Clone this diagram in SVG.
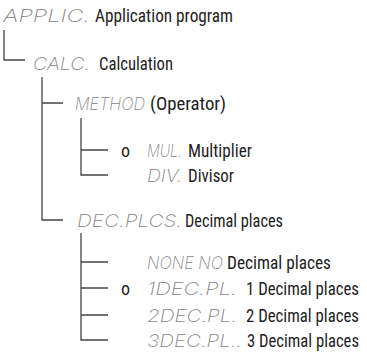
<svg xmlns="http://www.w3.org/2000/svg" width="367" height="358" viewBox="0 0 367 358">
<style>
.lcd{font-family:"Inter","DejaVu Sans",sans-serif;font-weight:200;font-style:italic;font-size:17px;fill:#858585}
.txt{font-family:"Liberation Sans Narrow","Roboto Condensed","Liberation Sans",sans-serif;font-size:18px;fill:#1e1e1e}
.ln{stroke:#444;stroke-width:1.3;fill:none}
</style>
<rect width="367" height="358" fill="#fff"/>
<g id="connectors" class="ln">
<path d="M4,30 V60 H25"/>
<path d="M42,77 V220 H63 M42,103 H63"/>
<path d="M81,118 V175 H108 M81,150 H108"/>
<path d="M81,233 V340 H108 M81,262 H108 M81,288 H108 M81,315 H108"/>
</g>
<g id="applic"><text class="lcd" x="3" y="22" textLength="87" lengthAdjust="spacingAndGlyphs">APPLIC.</text><text class="txt" x="95" y="22" textLength="138" lengthAdjust="spacingAndGlyphs">Application program</text></g>
<g id="calc"><text class="lcd" x="33" y="70" textLength="57" lengthAdjust="spacingAndGlyphs">CALC.</text><text class="txt" x="99" y="70" textLength="74" lengthAdjust="spacingAndGlyphs">Calculation</text></g>
<g id="method"><text class="lcd" x="75" y="110" textLength="70" lengthAdjust="spacingAndGlyphs">METHOD</text><text class="txt" x="150" y="110" textLength="76" lengthAdjust="spacingAndGlyphs">(Operator)</text></g>
<g id="mul"><text class="txt" x="121" y="157">o</text><text class="lcd" x="147" y="157" textLength="35" lengthAdjust="spacingAndGlyphs">MUL.</text><text class="txt" x="188" y="157" textLength="64" lengthAdjust="spacingAndGlyphs">Multiplier</text></g>
<g id="div"><text class="lcd" x="147" y="182" textLength="35" lengthAdjust="spacingAndGlyphs">DIV.</text><text class="txt" x="188" y="182" textLength="46" lengthAdjust="spacingAndGlyphs">Divisor</text></g>
<g id="decplcs"><text class="lcd" x="77" y="227" textLength="105" lengthAdjust="spacingAndGlyphs">DEC.PLCS.</text><text class="txt" x="185" y="227" textLength="98" lengthAdjust="spacingAndGlyphs">Decimal places</text></g>
<g id="none"><text class="lcd" x="147" y="269" textLength="76" lengthAdjust="spacingAndGlyphs">NONE NO</text><text class="txt" x="227" y="269" textLength="104" lengthAdjust="spacingAndGlyphs">Decimal places</text></g>
<g id="dec1"><text class="txt" x="121" y="295">o</text><text class="lcd" x="147" y="295" textLength="90" lengthAdjust="spacingAndGlyphs">1DEC.PL.</text><text class="txt" x="246" y="295" textLength="113" lengthAdjust="spacingAndGlyphs">1 Decimal places</text></g>
<g id="dec2"><text class="lcd" x="147" y="322" textLength="90" lengthAdjust="spacingAndGlyphs">2DEC.PL.</text><text class="txt" x="246" y="322" textLength="113" lengthAdjust="spacingAndGlyphs">2 Decimal places</text></g>
<g id="dec3"><text class="lcd" x="147" y="347" textLength="95" lengthAdjust="spacingAndGlyphs">3DEC.PL..</text><text class="txt" x="247" y="347" textLength="112" lengthAdjust="spacingAndGlyphs">3 Decimal places</text></g>
</svg>
